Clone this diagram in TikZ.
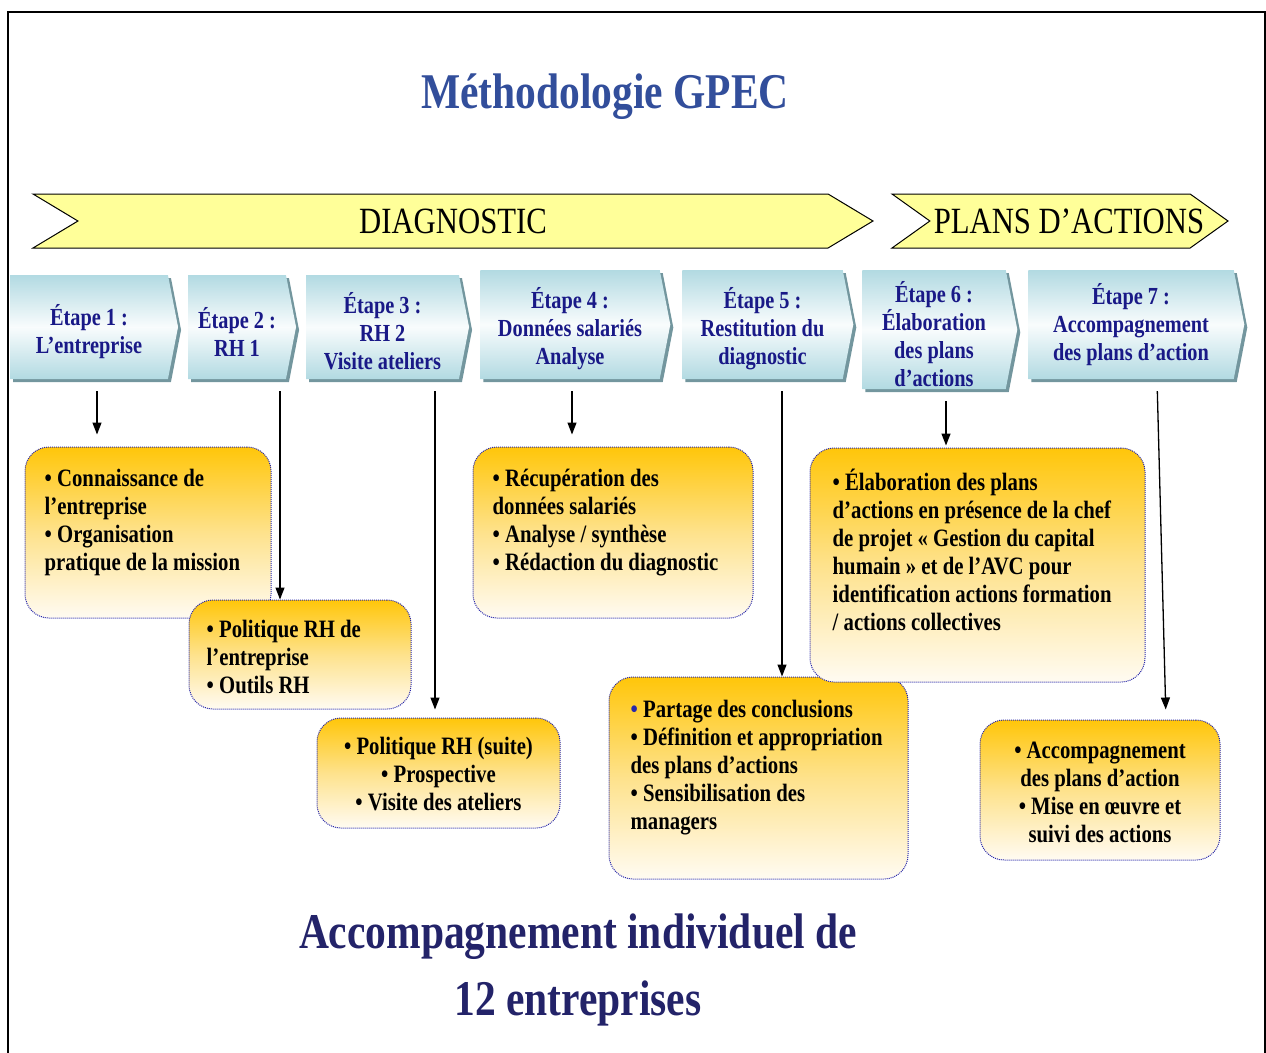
\documentclass[tikz,border=0pt]{standalone}
\usepackage{fontspec}
\setmainfont{Liberation Serif}[FakeStretch=0.83]
\usetikzlibrary{shapes.symbols,shadows,arrows.meta,calc}

\definecolor{titleblue}{RGB}{50,78,155}
\definecolor{stepnavy}{RGB}{25,25,135}
\definecolor{stepblue}{RGB}{178,218,226}
\definecolor{stepshade}{RGB}{115,150,158}
\definecolor{bannerfill}{RGB}{255,255,153}
\definecolor{boxtop}{RGB}{255,198,10}
\definecolor{boxmid}{RGB}{254,226,140}
\definecolor{boxbot}{RGB}{255,251,242}
\definecolor{boxline}{RGB}{40,40,170}
\definecolor{footnavy}{RGB}{35,35,105}

% premiere ligne un peu plus haute
\newcommand\haut{\rule{0pt}{30pt}}

\begin{document}
\begin{tikzpicture}[x=1pt, y=-1pt,
  banner/.style={signal, signal from=west, signal to=east, draw=black, line width=1pt, fill=bannerfill, inner sep=0pt, minimum height=54pt, font=\fontsize{37}{40}\selectfont},
  etape/.style={signal, signal to=east, signal pointer angle=158, inner sep=0pt, align=center, text=stepnavy, top color=stepblue, bottom color=stepblue, middle color=white!92!stepblue, drop shadow={shadow xshift=3pt, shadow yshift=-3pt, fill=stepshade, opacity=1}, font=\fontsize{24.5}{28}\selectfont\bfseries},
  boite/.style={rectangle, rounded corners=24pt, draw=boxline, densely dotted, line width=1pt, top color=boxtop, bottom color=boxbot, middle color=boxmid},
  puces/.style={inner sep=0pt, font=\fontsize{25}{28}\selectfont\bfseries},
  fleche/.style={-{Triangle[length=12pt,width=9pt]}, line width=1.3pt},
  pied/.style={anchor=base, text=footnavy, font=\fontsize{50}{67}\selectfont\bfseries}]

  \useasboundingbox (0,0) rectangle (1266,1052);
  \draw[line width=2.5pt] (8,1060) -- (8,12) -- (1265,12) -- (1265,1060);

  \node[anchor=base, text=titleblue, font=\fontsize{50}{55}\selectfont\bfseries] (titre) at (605,108) {Méthodologie GPEC};

  % bandeaux
  \node[banner, signal pointer angle=62, minimum width=840pt] (diag) at (453,221) {DIAGNOSTIC};
  \node[banner, signal pointer angle=71, minimum width=336pt] (plans) at (1060,221) {};
  \node[font=\fontsize{37}{40}\selectfont, inner sep=0pt] (plansTxt) at (1069,221) {PLANS D’ACTIONS};

  % etapes
  \node[etape, minimum width=168pt, minimum height=104pt] (e1) at (89,327) {\haut Étape 1 :\\L’entreprise};
  \node[etape, minimum width=108pt, minimum height=104pt] (e2) at (237,327) {\haut Étape 2 :\\RH 1};
  \node[etape, minimum width=163pt, minimum height=104pt] (e3) at (382.5,327) {\haut Étape 3 :\\RH 2\\Visite ateliers};
  \node[etape, minimum width=190pt, minimum height=109pt] (e4) at (570,324.5) {\haut Étape 4 :\\Données salariés\\Analyse};
  \node[etape, minimum width=171pt, minimum height=109pt] (e5) at (762.5,324.5) {\haut Étape 5 :\\Restitution du\\diagnostic};
  \node[etape, minimum width=155pt, minimum height=119pt] (e6) at (934,329.5) {\haut Étape 6 :\\Élaboration\\des plans\\d’actions};
  \node[etape, minimum width=216pt, minimum height=109pt] (e7) at (1131,324.5) {Étape 7 :\\Accompagnement\\des plans d’action};

  % boites
  \node[boite, minimum width=246pt, minimum height=171pt] (b1) at (148,532.5) {};
  \node[puces, anchor=north west, align=left] (t1) at ($(b1.north west)+(20,22)$) {• Connaissance de\\l’entreprise\\• Organisation\\pratique de la mission};
  \node[boite, minimum width=222pt, minimum height=109pt] (b2) at (300,654.5) {};
  \node[puces, anchor=north west, align=left] (t2) at ($(b2.north west)+(18,20)$) {• Politique RH de\\l’entreprise\\• Outils RH};
  \node[boite, minimum width=243pt, minimum height=110pt] (b3) at (438.5,773) {};
  \node[puces, anchor=north, align=center] (t3) at ($(b3.north)+(0,19)$) {• Politique RH (suite)\\• Prospective\\• Visite des ateliers};
  \node[boite, minimum width=280pt, minimum height=171pt] (b4) at (613,532.5) {};
  \node[puces, anchor=north west, align=left] (t4) at ($(b4.north west)+(20,22)$) {• Récupération des\\données salariés\\• Analyse / synthèse\\• Rédaction du diagnostic};
  \node[boite, minimum width=299pt, minimum height=202pt] (b5) at (758.5,778) {};
  \node[puces, anchor=north west, align=left] (t5) at ($(b5.north west)+(22,23)$) {{\color{boxline}•} Partage des conclusions\\• Définition et appropriation\\des plans d’actions\\• Sensibilisation des\\managers};
  \node[boite, minimum width=335pt, minimum height=234pt] (b6) at (977.5,565) {};
  \node[puces, anchor=north west, align=left] (t6) at ($(b6.north west)+(23,21)$) {• Élaboration des plans\\d’actions en présence de la chef\\de projet « Gestion du capital\\humain » et de l’AVC pour\\identification actions formation\\/ actions collectives};
  \node[boite, minimum width=240pt, minimum height=140pt] (b7) at (1100,790) {};
  \node[puces, anchor=north, align=center] (t7) at ($(b7.north)+(0,22)$) {• Accompagnement\\des plans d’action\\• Mise en œuvre et\\suivi des actions};

  % fleches
  \draw[fleche, shorten <=12pt, shorten >=12pt] ([xshift=8pt]e1.south) -- ([xshift=8pt]e1.south |- b1.north);
  \draw[fleche, shorten <=12pt] ([xshift=43pt]e2.south) -- ([xshift=43pt]e2.south |- b2.north);
  \draw[fleche, shorten <=12pt, shorten >=8pt] ([xshift=52.5pt]e3.south) -- ([xshift=52.5pt]e3.south |- b3.north);
  \draw[fleche, shorten <=12pt, shorten >=12pt] ([xshift=2pt]e4.south) -- ([xshift=2pt]e4.south |- b4.north);
  \draw[fleche, shorten <=12pt] ([xshift=19.5pt]e5.south) -- ([xshift=19.5pt]e5.south |- b5.north);
  \draw[fleche, shorten <=12pt, shorten >=2pt] ([xshift=12pt]e6.south) -- ([xshift=12pt]e6.south |- b6.north);
  \draw[fleche, shorten <=12pt, shorten >=10pt] ([xshift=26pt]e7.south) -- ([xshift=35pt]e7.south |- b7.north);

  % texte du bas
  \node[pied] (pied1) at (578,948) {Accompagnement individuel de};
  \node[pied] (pied2) at (578,1015) {12 entreprises};
\end{tikzpicture}
\end{document}
